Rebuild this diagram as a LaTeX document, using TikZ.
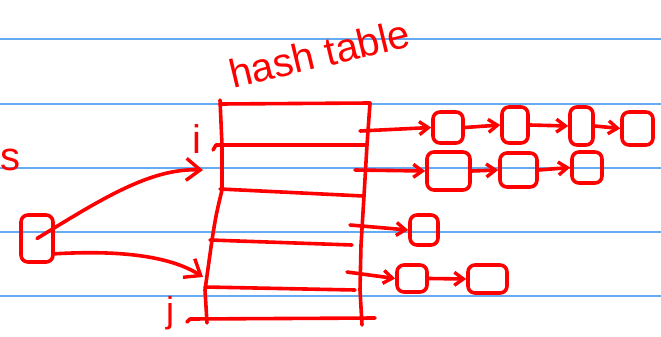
\documentclass[tikz,border=0pt]{standalone}
\usepackage{fontspec}
\setmainfont{Liberation Sans}
\usetikzlibrary{arrows.meta}
\definecolor{pen}{RGB}{255,0,0}
\definecolor{ruleblue}{rgb}{0.40,0.67,0.95}
\begin{document}
\begin{tikzpicture}[x=1pt,y=-1pt,
  ink/.style={draw=pen,line width=3.6pt,line cap=round,line join=round},
  cell/.style={ink,rectangle,rounded corners=7pt,inner sep=0pt},
  link/.style={ink,-{Straight Barb[length=9pt,width=13pt,line width=3.4pt]}},
  biglink/.style={ink,-{Straight Barb[length=14pt,width=22pt,line width=3.4pt]}},
  hand/.style={text=pen,inner sep=0pt,font=\fontsize{40}{40}\selectfont},
  paperline/.style={color=ruleblue,line width=2pt}]
\useasboundingbox (0,0) rectangle (661,337);
\fill[white] (0,0) rectangle (661,337);
% ruled paper
\foreach \yy in {39.5,103.5,167.5,231.5,295.5}
  \draw[paperline] (0,\yy) -- (661,\yy);
% labels
\node[hand,anchor=base west,rotate=13.5] (title) at (233,89) {hash table};
\node[hand,anchor=base west] (lbls) at (0.5,170) {s};
\node[hand,anchor=base] (lbli) at (197,153) {i};
\node[hand,anchor=base,font=\fontsize{36}{36}\selectfont] (lblj) at (170,322) {j};
% hash table
\draw[ink] (220,100) -- (222,145) -- (222,190) .. controls (216,215) .. (212,240) -- (205,290) -- (207,323);
\draw[ink] (370,103) -- (367,145) -- (364,196) -- (361,245) -- (360,290) -- (362,325);
\draw[ink] (220,104) -- (370,103);
\draw[ink] (213,150) -- (216,145) -- (366,145);
\draw[ink] (220,189) -- (363,196);
\draw[ink] (210,240) -- (352,245);
\draw[ink] (205,287) -- (355,290);
\draw[ink] (187,322) -- (190,319) -- (375,318);
\coordinate (s1) at (360,131);
\coordinate (s2) at (355,170);
\coordinate (s3) at (350,225);
\coordinate (s4) at (347,272);
% list nodes
\node[cell,minimum width=30pt,minimum height=31pt] (n11) at (448,127.5) {};
\node[cell,minimum width=26pt,minimum height=36pt] (n12) at (515,125) {};
\node[cell,minimum width=23pt,minimum height=38pt] (n13) at (581.5,126) {};
\node[cell,minimum width=31pt,minimum height=33pt] (n14) at (637.5,128.5) {};
\node[cell,minimum width=43pt,minimum height=38pt] (n21) at (448.5,171) {};
\node[cell,minimum width=37pt,minimum height=34pt] (n22) at (518.5,170) {};
\node[cell,minimum width=30pt,minimum height=31pt] (n23) at (587,167.5) {};
\node[cell,minimum width=28pt,minimum height=30pt] (n31) at (424,230) {};
\node[cell,minimum width=30pt,minimum height=27pt] (n41) at (412,278.5) {};
\node[cell,minimum width=39pt,minimum height=28pt] (n42) at (487.5,279) {};
\node[cell,minimum width=32pt,minimum height=47pt] (D) at (37,238.5) {};
% connectors
\draw[link] (s1) -- (n11.west);
\draw[link] (n11.east) -- (n12.west);
\draw[link] (n12.east) -- (n13.west);
\draw[link] (n13.east) -- (n14.west);
\draw[link] (s2) -- (n21.west);
\draw[link] (n21.east) -- (n22.west);
\draw[link] (n22.east) -- (n23.west);
\draw[link] (s3) -- (n31.west);
\draw[link] (s4) -- (n41.west);
\draw[link] (n41.east) -- (n42.west);
\coordinate (ti) at (203,170);
\coordinate (tj) at (203,277);
\draw[biglink] (D.center) .. controls (100,200) and (150,168) .. (ti);
\draw[biglink] ([yshift=10pt]D.south east) .. controls (120,250) and (170,256) .. (tj);
\end{tikzpicture}
\end{document}
